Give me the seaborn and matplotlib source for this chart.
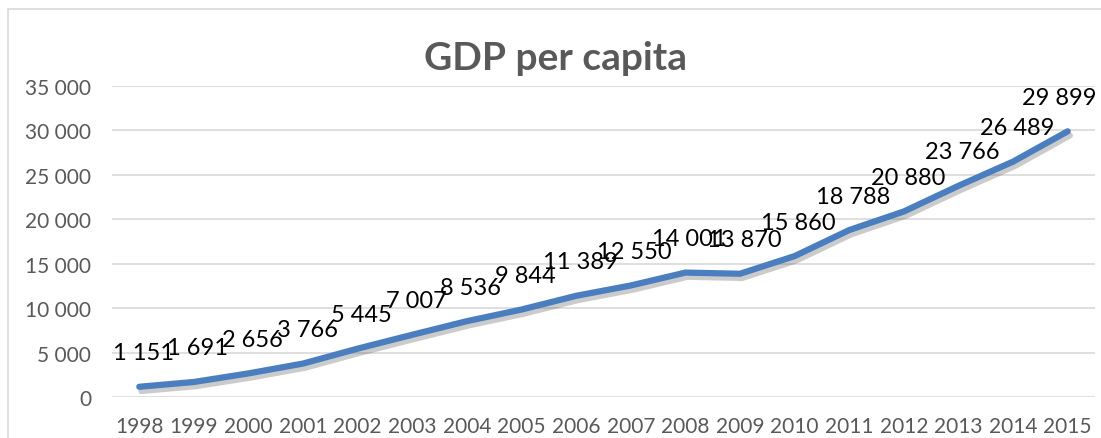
import matplotlib
matplotlib.use("Agg")
import matplotlib.pyplot as plt
import matplotlib.patheffects as pe
from matplotlib.patches import Rectangle
import seaborn as sns
import pandas as pd

years = [1998, 1999, 2000, 2001, 2002, 2003, 2004, 2005, 2006,
         2007, 2008, 2009, 2010, 2011, 2012, 2013, 2014, 2015]
gdp_per_capita = [1151, 1691, 2656, 3766, 5445, 7007, 8536, 9844, 11389,
                  12550, 14001, 13870, 15860, 18788, 20880, 23766, 26489, 29899]
y_ticks = [0, 5000, 10000, 15000, 20000, 25000, 30000, 35000]
title = "GDP per capita"


def spaced(v):
    return f"{v:,}".replace(",", " ")


sns.set_theme(style="white")
plt.rcParams["font.family"] = ["Lato", "DejaVu Sans"]

W, H = 1101, 439
fig = plt.figure(figsize=(W / 100, H / 100), dpi=100)
fig.patch.set_facecolor("white")

# chart-area frame
fig.patches.append(Rectangle((8 / W, -0.05), 1.1, 1 - 10 / H + 0.05,
                             transform=fig.transFigure, fill=False,
                             edgecolor="#D9D9D9", linewidth=1.2))

ax = fig.add_axes([112 / W, 1 - 398 / H, (1095 - 112) / W, (398 - 87) / H])
df = pd.DataFrame({"year": years, "gdp": gdp_per_capita})
sns.lineplot(data=df, x="year", y="gdp", ax=ax, color="#4A7EBF",
             linewidth=4.5, solid_joinstyle="round", solid_capstyle="round",
             zorder=3)
line = ax.lines[0]
line.set_path_effects([
    pe.SimpleLineShadow(offset=(1.5, -3), shadow_color="#555555", alpha=0.3),
    pe.Normal(),
])

ax.set_xlim(years[0] - 0.5, years[-1] + 0.5)
ax.set_ylim(y_ticks[0], y_ticks[-1])
ax.set_xticks(years)
ax.set_xticklabels([str(y) for y in years])
ax.set_yticks(y_ticks)
ax.set_yticklabels([spaced(v) for v in y_ticks])
ax.tick_params(axis="both", length=0, labelsize=15, labelcolor="#595959")
ax.tick_params(axis="y", pad=15)
ax.tick_params(axis="x", pad=14)
ax.set_xlabel("")
ax.set_ylabel("")
ax.grid(axis="y", color="#D9D9D9", linewidth=1.2)
ax.grid(axis="x", visible=False)
for s in ax.spines.values():
    s.set_visible(False)
ax.set_facecolor("none")

labels = []
for x, v in zip(years, gdp_per_capita):
    labels.append(ax.annotate(spaced(v), (x, v), xytext=(4, 34),
                              textcoords="offset pixels", ha="center",
                              va="center", fontsize=17, color="black",
                              zorder=4, annotation_clip=False))

fig.text(556 / W, 1 - 58 / H, title, ha="center", va="center",
         fontsize=28, fontweight="bold", color="#595959")

# keep data labels inside the chart area
fig.canvas.draw()
renderer = fig.canvas.get_renderer()
for t in labels:
    bb = t.get_window_extent(renderer)
    overflow = bb.x1 - (W - 5)
    if overflow > 0:
        dx, dy = t.xyann
        t.xyann = (dx - overflow, dy)

fig.savefig("out.png", dpi=100, facecolor="white")
